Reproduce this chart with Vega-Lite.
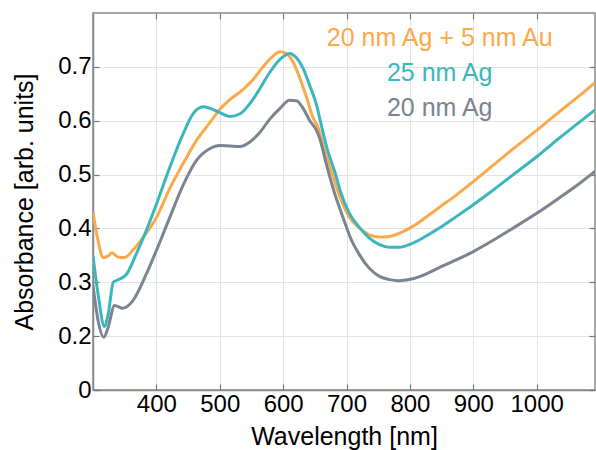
{
  "$schema": "https://vega.github.io/schema/vega-lite/v6.json",
  "autosize": "none",
  "width": 502,
  "height": 377,
  "padding": {"left": 93, "top": 13, "right": 1, "bottom": 60},
  "background": "white",
  "config": {
    "font": "Liberation Sans",
    "view": {"stroke": "#8a8a8a", "strokeWidth": 1.5},
    "axis": {
      "labelFont": "Liberation Sans",
      "titleFont": "Liberation Sans",
      "labelFontSize": 24,
      "titleFontSize": 25,
      "titleFontWeight": "normal",
      "labelColor": "#000000",
      "titleColor": "#000000",
      "domainColor": "#8a8a8a",
      "domainWidth": 1.5,
      "tickColor": "#777777",
      "tickSize": -6,
      "tickWidth": 1.2,
      "gridColor": "#e4e4e4",
      "gridWidth": 1
    }
  },
  "datasets": {
    "spectra": [
      {"series": "20 nm Ag + 5 nm Au", "wl": 300, "abs": 0.43},
      {"series": "20 nm Ag + 5 nm Au", "wl": 308, "abs": 0.377},
      {"series": "20 nm Ag + 5 nm Au", "wl": 316, "abs": 0.346},
      {"series": "20 nm Ag + 5 nm Au", "wl": 324, "abs": 0.349},
      {"series": "20 nm Ag + 5 nm Au", "wl": 330, "abs": 0.355},
      {"series": "20 nm Ag + 5 nm Au", "wl": 339, "abs": 0.347},
      {"series": "20 nm Ag + 5 nm Au", "wl": 350, "abs": 0.346},
      {"series": "20 nm Ag + 5 nm Au", "wl": 363, "abs": 0.36},
      {"series": "20 nm Ag + 5 nm Au", "wl": 379, "abs": 0.383},
      {"series": "20 nm Ag + 5 nm Au", "wl": 400, "abs": 0.42},
      {"series": "20 nm Ag + 5 nm Au", "wl": 421, "abs": 0.474},
      {"series": "20 nm Ag + 5 nm Au", "wl": 442, "abs": 0.52},
      {"series": "20 nm Ag + 5 nm Au", "wl": 463, "abs": 0.563},
      {"series": "20 nm Ag + 5 nm Au", "wl": 484, "abs": 0.596},
      {"series": "20 nm Ag + 5 nm Au", "wl": 500, "abs": 0.621},
      {"series": "20 nm Ag + 5 nm Au", "wl": 516, "abs": 0.639},
      {"series": "20 nm Ag + 5 nm Au", "wl": 537, "abs": 0.658},
      {"series": "20 nm Ag + 5 nm Au", "wl": 553, "abs": 0.677},
      {"series": "20 nm Ag + 5 nm Au", "wl": 568, "abs": 0.7},
      {"series": "20 nm Ag + 5 nm Au", "wl": 584, "abs": 0.72},
      {"series": "20 nm Ag + 5 nm Au", "wl": 595, "abs": 0.728},
      {"series": "20 nm Ag + 5 nm Au", "wl": 605, "abs": 0.725},
      {"series": "20 nm Ag + 5 nm Au", "wl": 616, "abs": 0.708},
      {"series": "20 nm Ag + 5 nm Au", "wl": 626, "abs": 0.68},
      {"series": "20 nm Ag + 5 nm Au", "wl": 637, "abs": 0.643},
      {"series": "20 nm Ag + 5 nm Au", "wl": 647, "abs": 0.606},
      {"series": "20 nm Ag + 5 nm Au", "wl": 655, "abs": 0.588},
      {"series": "20 nm Ag + 5 nm Au", "wl": 663, "abs": 0.554},
      {"series": "20 nm Ag + 5 nm Au", "wl": 679, "abs": 0.495},
      {"series": "20 nm Ag + 5 nm Au", "wl": 690, "abs": 0.457},
      {"series": "20 nm Ag + 5 nm Au", "wl": 705, "abs": 0.42},
      {"series": "20 nm Ag + 5 nm Au", "wl": 721, "abs": 0.4},
      {"series": "20 nm Ag + 5 nm Au", "wl": 736, "abs": 0.388},
      {"series": "20 nm Ag + 5 nm Au", "wl": 752, "abs": 0.384},
      {"series": "20 nm Ag + 5 nm Au", "wl": 768, "abs": 0.385},
      {"series": "20 nm Ag + 5 nm Au", "wl": 783, "abs": 0.391},
      {"series": "20 nm Ag + 5 nm Au", "wl": 799, "abs": 0.4},
      {"series": "20 nm Ag + 5 nm Au", "wl": 814, "abs": 0.411},
      {"series": "20 nm Ag + 5 nm Au", "wl": 830, "abs": 0.425},
      {"series": "20 nm Ag + 5 nm Au", "wl": 851, "abs": 0.443},
      {"series": "20 nm Ag + 5 nm Au", "wl": 872, "abs": 0.461},
      {"series": "20 nm Ag + 5 nm Au", "wl": 900, "abs": 0.487},
      {"series": "20 nm Ag + 5 nm Au", "wl": 930, "abs": 0.516},
      {"series": "20 nm Ag + 5 nm Au", "wl": 962, "abs": 0.547},
      {"series": "20 nm Ag + 5 nm Au", "wl": 1000, "abs": 0.582},
      {"series": "20 nm Ag + 5 nm Au", "wl": 1036, "abs": 0.617},
      {"series": "20 nm Ag + 5 nm Au", "wl": 1067, "abs": 0.646},
      {"series": "20 nm Ag + 5 nm Au", "wl": 1092, "abs": 0.671},

      {"series": "25 nm Ag", "wl": 300, "abs": 0.349},
      {"series": "25 nm Ag", "wl": 308, "abs": 0.278},
      {"series": "25 nm Ag", "wl": 318, "abs": 0.218},
      {"series": "25 nm Ag", "wl": 324, "abs": 0.241},
      {"series": "25 nm Ag", "wl": 332, "abs": 0.3},
      {"series": "25 nm Ag", "wl": 342, "abs": 0.306},
      {"series": "25 nm Ag", "wl": 353, "abs": 0.315},
      {"series": "25 nm Ag", "wl": 368, "abs": 0.352},
      {"series": "25 nm Ag", "wl": 384, "abs": 0.396},
      {"series": "25 nm Ag", "wl": 400, "abs": 0.445},
      {"series": "25 nm Ag", "wl": 421, "abs": 0.513},
      {"series": "25 nm Ag", "wl": 442, "abs": 0.575},
      {"series": "25 nm Ag", "wl": 458, "abs": 0.613},
      {"series": "25 nm Ag", "wl": 474, "abs": 0.626},
      {"series": "25 nm Ag", "wl": 489, "abs": 0.621},
      {"series": "25 nm Ag", "wl": 500, "abs": 0.615},
      {"series": "25 nm Ag", "wl": 516, "abs": 0.608},
      {"series": "25 nm Ag", "wl": 532, "abs": 0.613},
      {"series": "25 nm Ag", "wl": 547, "abs": 0.631},
      {"series": "25 nm Ag", "wl": 563, "abs": 0.659},
      {"series": "25 nm Ag", "wl": 579, "abs": 0.69},
      {"series": "25 nm Ag", "wl": 595, "abs": 0.714},
      {"series": "25 nm Ag", "wl": 610, "abs": 0.725},
      {"series": "25 nm Ag", "wl": 621, "abs": 0.717},
      {"series": "25 nm Ag", "wl": 632, "abs": 0.696},
      {"series": "25 nm Ag", "wl": 642, "abs": 0.665},
      {"series": "25 nm Ag", "wl": 653, "abs": 0.628},
      {"series": "25 nm Ag", "wl": 658, "abs": 0.603},
      {"series": "25 nm Ag", "wl": 668, "abs": 0.554},
      {"series": "25 nm Ag", "wl": 684, "abs": 0.495},
      {"series": "25 nm Ag", "wl": 690, "abs": 0.47},
      {"series": "25 nm Ag", "wl": 705, "abs": 0.427},
      {"series": "25 nm Ag", "wl": 721, "abs": 0.401},
      {"series": "25 nm Ag", "wl": 736, "abs": 0.382},
      {"series": "25 nm Ag", "wl": 752, "abs": 0.37},
      {"series": "25 nm Ag", "wl": 768, "abs": 0.365},
      {"series": "25 nm Ag", "wl": 783, "abs": 0.365},
      {"series": "25 nm Ag", "wl": 799, "abs": 0.37},
      {"series": "25 nm Ag", "wl": 814, "abs": 0.378},
      {"series": "25 nm Ag", "wl": 830, "abs": 0.389},
      {"series": "25 nm Ag", "wl": 851, "abs": 0.404},
      {"series": "25 nm Ag", "wl": 872, "abs": 0.421},
      {"series": "25 nm Ag", "wl": 900, "abs": 0.444},
      {"series": "25 nm Ag", "wl": 930, "abs": 0.47},
      {"series": "25 nm Ag", "wl": 962, "abs": 0.499},
      {"series": "25 nm Ag", "wl": 1000, "abs": 0.533},
      {"series": "25 nm Ag", "wl": 1036, "abs": 0.568},
      {"series": "25 nm Ag", "wl": 1067, "abs": 0.597},
      {"series": "25 nm Ag", "wl": 1092, "abs": 0.62},

      {"series": "20 nm Ag", "wl": 300, "abs": 0.294},
      {"series": "20 nm Ag", "wl": 308, "abs": 0.229},
      {"series": "20 nm Ag", "wl": 317, "abs": 0.198},
      {"series": "20 nm Ag", "wl": 324, "abs": 0.217},
      {"series": "20 nm Ag", "wl": 334, "abs": 0.257},
      {"series": "20 nm Ag", "wl": 347, "abs": 0.252},
      {"series": "20 nm Ag", "wl": 363, "abs": 0.266},
      {"series": "20 nm Ag", "wl": 384, "abs": 0.315},
      {"series": "20 nm Ag", "wl": 400, "abs": 0.359},
      {"series": "20 nm Ag", "wl": 421, "abs": 0.42},
      {"series": "20 nm Ag", "wl": 442, "abs": 0.48},
      {"series": "20 nm Ag", "wl": 463, "abs": 0.526},
      {"series": "20 nm Ag", "wl": 484, "abs": 0.548},
      {"series": "20 nm Ag", "wl": 500, "abs": 0.554},
      {"series": "20 nm Ag", "wl": 516, "abs": 0.553},
      {"series": "20 nm Ag", "wl": 532, "abs": 0.552},
      {"series": "20 nm Ag", "wl": 547, "abs": 0.56},
      {"series": "20 nm Ag", "wl": 563, "abs": 0.578},
      {"series": "20 nm Ag", "wl": 579, "abs": 0.603},
      {"series": "20 nm Ag", "wl": 595, "abs": 0.623},
      {"series": "20 nm Ag", "wl": 610, "abs": 0.638},
      {"series": "20 nm Ag", "wl": 621, "abs": 0.637},
      {"series": "20 nm Ag", "wl": 632, "abs": 0.622},
      {"series": "20 nm Ag", "wl": 642, "abs": 0.6},
      {"series": "20 nm Ag", "wl": 653, "abs": 0.581},
      {"series": "20 nm Ag", "wl": 658, "abs": 0.566},
      {"series": "20 nm Ag", "wl": 668, "abs": 0.52},
      {"series": "20 nm Ag", "wl": 684, "abs": 0.455},
      {"series": "20 nm Ag", "wl": 690, "abs": 0.435},
      {"series": "20 nm Ag", "wl": 700, "abs": 0.402},
      {"series": "20 nm Ag", "wl": 705, "abs": 0.386},
      {"series": "20 nm Ag", "wl": 721, "abs": 0.35},
      {"series": "20 nm Ag", "wl": 736, "abs": 0.326},
      {"series": "20 nm Ag", "wl": 752, "abs": 0.311},
      {"series": "20 nm Ag", "wl": 768, "abs": 0.305},
      {"series": "20 nm Ag", "wl": 783, "abs": 0.303},
      {"series": "20 nm Ag", "wl": 799, "abs": 0.305},
      {"series": "20 nm Ag", "wl": 814, "abs": 0.31},
      {"series": "20 nm Ag", "wl": 830, "abs": 0.318},
      {"series": "20 nm Ag", "wl": 851, "abs": 0.33},
      {"series": "20 nm Ag", "wl": 872, "abs": 0.341},
      {"series": "20 nm Ag", "wl": 900, "abs": 0.357},
      {"series": "20 nm Ag", "wl": 930, "abs": 0.377},
      {"series": "20 nm Ag", "wl": 962, "abs": 0.4},
      {"series": "20 nm Ag", "wl": 1000, "abs": 0.428},
      {"series": "20 nm Ag", "wl": 1036, "abs": 0.457},
      {"series": "20 nm Ag", "wl": 1067, "abs": 0.483},
      {"series": "20 nm Ag", "wl": 1092, "abs": 0.506}
    ],
    "labels": [
      {"series": "20 nm Ag + 5 nm Au", "wl": 847, "abs": 0.739},
      {"series": "25 nm Ag", "wl": 847, "abs": 0.674},
      {"series": "20 nm Ag", "wl": 847, "abs": 0.609}
    ]
  },
  "layer": [
    {
      "data": {"name": "spectra"},
      "mark": {"type": "line", "strokeWidth": 3, "clip": true, "interpolate": "monotone"},
      "encoding": {
        "x": {
          "field": "wl", "type": "quantitative",
          "scale": {"domain": [300, 1092], "nice": false, "zero": false},
          "axis": {
            "title": "Wavelength [nm]",
            "values": [400, 500, 600, 700, 800, 900, 1000],
            "format": "d",
            "labelPadding": 8,
            "titlePadding": 8
          }
        },
        "y": {
          "field": "abs", "type": "quantitative",
          "scale": {"domain": [0.1, 0.8], "nice": false, "zero": false},
          "axis": {
            "title": "Absorbance [arb. units]",
            "values": [0.1, 0.2, 0.3, 0.4, 0.5, 0.6, 0.7],
            "labelExpr": "datum.value < 0.15 ? '0' : format(datum.value, '.1f')",
            "labelPadding": 8,
            "titlePadding": 20
          }
        },
        "color": {
          "field": "series", "type": "nominal",
          "scale": {
            "domain": ["20 nm Ag + 5 nm Au", "25 nm Ag", "20 nm Ag"],
            "range": ["#fba94a", "#3cb6be", "#7b8491"]
          },
          "legend": null
        },
        "detail": {"field": "series"}
      }
    },
    {
      "data": {"name": "labels"},
      "mark": {"type": "text", "fontSize": 25, "font": "Liberation Sans", "align": "center", "baseline": "alphabetic"},
      "encoding": {
        "x": {
          "field": "wl", "type": "quantitative",
          "axis": {"orient": "top", "labels": false, "title": null, "grid": false, "domain": false,
                   "values": [400, 500, 600, 700, 800, 900, 1000]}
        },
        "y": {
          "field": "abs", "type": "quantitative",
          "axis": {"orient": "right", "labels": false, "title": null, "grid": false, "domain": false,
                   "values": [0.1, 0.2, 0.3, 0.4, 0.5, 0.6, 0.7]}
        },
        "text": {"field": "series"},
        "color": {"field": "series", "type": "nominal", "legend": null}
      }
    }
  ],
  "resolve": {"axis": {"x": "independent", "y": "independent"}}
}
